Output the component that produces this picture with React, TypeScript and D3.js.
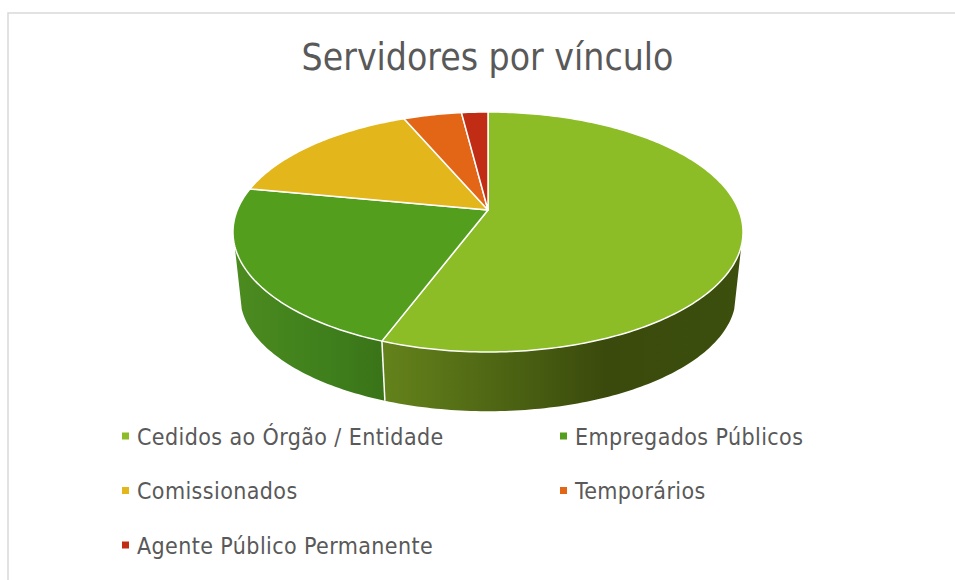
import React from 'react';
import * as d3 from 'd3';

const title = 'Servidores por vínculo';
const categories = ['Cedidos ao Órgão / Entidade', 'Empregados Públicos', 'Comissionados', 'Temporários', 'Agente Público Permanente'];
const values = [55.7, 22.3, 15.6, 4.4, 2.0];
const colors = ['#8cbd26', '#549e1e', '#e3b71b', '#e36617', '#c12c15'];
// wall gradients: [left colour, middle, right colour]
const wallStops = [
  ['#64831b', '#3a4a0c', '#3c4f0d'],
  ['#4c8b1f', '#3f7f1c', '#3a7318'],
];

const W = 955;
const H = 580;
const cx = 488;
const apexY = 210;
const k = 250.7;
const c = -0.1833;
const a = 77.47;
// wall is only visible between these angles (degrees clockwise from the back)
const wallFrom = (107 * Math.PI) / 180;
const wallTo = (253 * Math.PI) / 180;

// top face: perspective view of a circle
const topPt = (t: number): [number, number] => {
  const u = Math.sin(t);
  const v = -Math.cos(t);
  const w = 1 + c * v;
  return [cx + (k * u) / w, (a * v + apexY) / w];
};
// bottom face: same outline, a bit smaller and moved down
const botPt = (t: number): [number, number] => {
  const [x, y] = topPt(t);
  return [cx + (x - cx) * 0.972, 296 + (y - 232) * 0.96];
};

const samples = (from: number, to: number) => {
  const n = Math.max(2, Math.ceil((to - from) * 60));
  return d3.range(n + 1).map(i => from + ((to - from) * i) / n);
};

const line = d3.line();

export default function App() {
  const arcs = d3.pie<number>().sort(null)(values);

  const walls = arcs.slice(0, 2).map((d, i) => {
    const from = Math.max(d.startAngle, wallFrom);
    const to = Math.min(d.endAngle, wallTo);
    const ts = samples(from, to);
    const pts = [...ts.map(topPt), ...ts.slice().reverse().map(botPt)];
    const xs = pts.map(p => p[0]);
    return { i, d: line(pts) + 'Z', x1: d3.min(xs)!, x2: d3.max(xs)! };
  });

  return (
    <svg width={W} height={H} viewBox={`0 0 ${W} ${H}`} style={{ position: 'absolute', left: 0, top: 0, display: 'block' }}>
      <rect width={W} height={H} fill="#fff" />
      <path d="M8 580V13H955" fill="none" stroke="#d9d9d9" strokeWidth={1.5} />

      <text x={487.5} y={70} textAnchor="middle" fontFamily="'DejaVu Sans'" fontSize={37} fontStretch="condensed" fill="#595959">
        {title}
      </text>

      <defs>
        {walls.map(w => (
          <linearGradient key={w.i} id={`wall${w.i}`} gradientUnits="userSpaceOnUse" x1={w.x1} x2={w.x2} y1={0} y2={0}>
            <stop offset="0" stopColor={wallStops[w.i][0]} />
            <stop offset="0.62" stopColor={wallStops[w.i][1]} />
            <stop offset="1" stopColor={wallStops[w.i][2]} />
          </linearGradient>
        ))}
      </defs>

      {walls.map(w => (
        <path key={w.i} d={w.d} fill={`url(#wall${w.i})`} stroke="none" />
      ))}
      {/* white seam between the two visible walls */}
      <path d={line([topPt(arcs[0].endAngle), botPt(arcs[0].endAngle)])!} stroke="#fff" strokeWidth={1.5} fill="none" />

      {arcs.map((d, i) => (
        <path
          key={categories[i]}
          d={line([[cx, apexY], ...samples(d.startAngle, d.endAngle).map(topPt)])! + 'Z'}
          fill={colors[i]}
          stroke="#fff"
          strokeWidth={1.5}
          strokeLinejoin="round"
        />
      ))}

      {categories.map((name, i) => {
        const col = i === 4 ? 0 : i % 2;
        const row = Math.floor(i / 2);
        const x = col === 0 ? 122 : 560;
        const y = 436 + row * 54.5;
        return (
          <g key={name}>
            <rect x={x} y={y - 3.5} width={7} height={7} fill={colors[i]} />
            <text x={x + 15} y={y + 8.5} fontFamily="'DejaVu Sans'" fontSize={23} letterSpacing={0.4} fontStretch="condensed" fill="#595959">
              {name}
            </text>
          </g>
        );
      })}
    </svg>
  );
}
